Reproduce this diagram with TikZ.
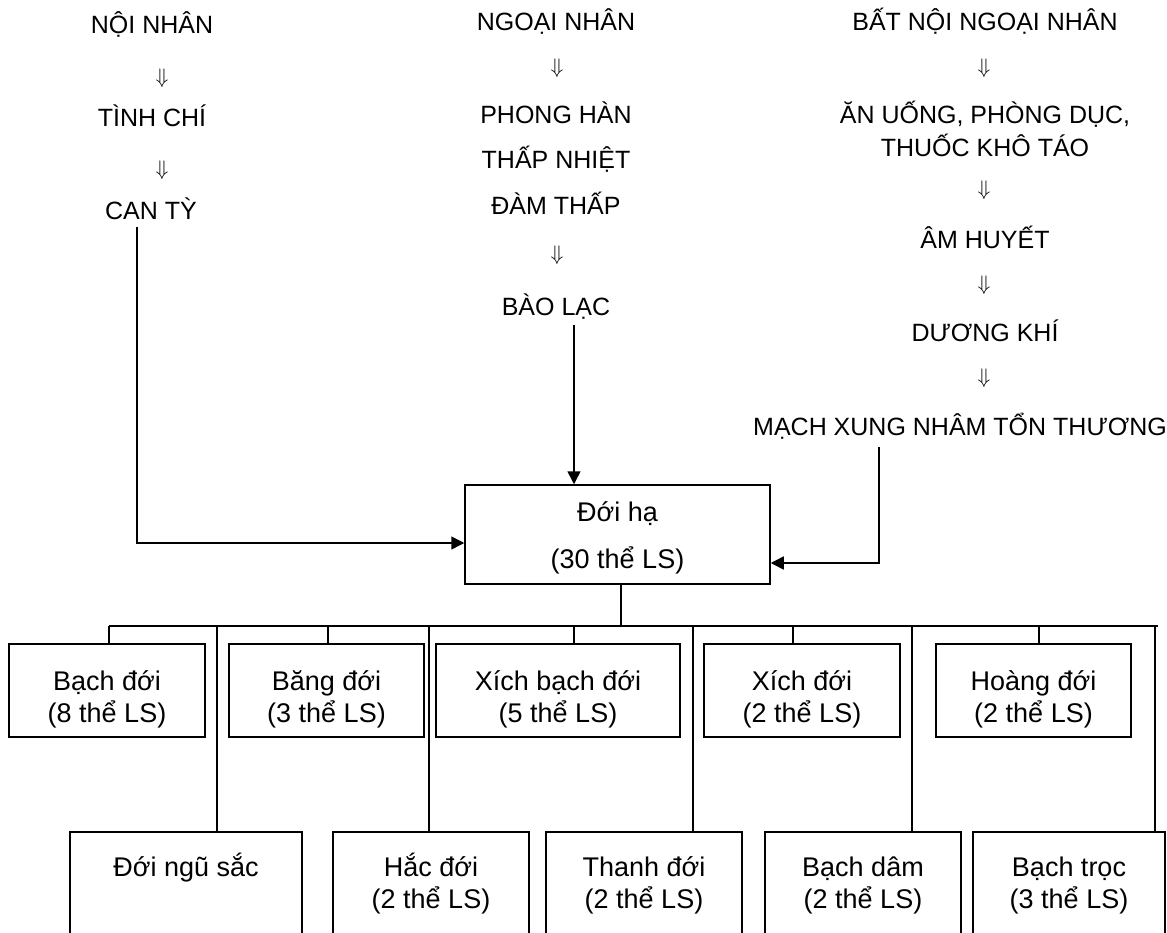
\documentclass[tikz,border=0pt]{standalone}
\usepackage{graphicx}
\usepackage{fontspec}
\setmainfont{Liberation Sans}
\usetikzlibrary{arrows.meta}
\newcommand\capfnt{\fontsize{25}{30}\selectfont}
\newcommand\boxfnt{\fontsize{27}{32}\selectfont}
\newcommand\mainfnt{\fontsize{27}{47}\selectfont}
\newcommand\dnarr{\scalebox{2.1}{$\Downarrow$}}
\begin{document}
\begin{tikzpicture}[x=1pt,y=-1pt,
  captxt/.style={anchor=base,font=\capfnt,inner sep=0pt},
  dn/.style={inner sep=0pt},
  ln/.style={line width=1.5pt},
  arr/.style={line width=1.5pt,-{Triangle[length=13pt,width=13pt]}},
  boxa/.style={draw,line width=1.5pt,inner sep=0pt,align=center,font=\boxfnt,
     minimum height=93pt,text height=73pt,text depth=10pt},
  boxb/.style={draw,line width=1.5pt,inner sep=0pt,align=center,font=\boxfnt,
     minimum height=108pt,text height=54pt,text depth=10pt},
  mainbox/.style={draw,line width=1.5pt,inner sep=0pt,align=center,font=\mainfnt,
     minimum width=305pt,minimum height=99pt,text height=77pt,text depth=10pt}]
\clip (0,0) rectangle (1167,933);
\fill[white] (0,0) rectangle (1167,933);
% left column
\node[captxt] (n1) at (152,34) {NỘI NHÂN};
\node[dn] (d1) at (162,78) {\dnarr};
\node[captxt] (n2) at (152,127) {TÌNH CHÍ};
\node[dn] (d2) at (162,170) {\dnarr};
\node[captxt] (n3) at (151,220) {CAN TỲ};
% middle column
\node[captxt] (m1) at (556,31) {NGOẠI NHÂN};
\node[dn] (d3) at (557,68) {\dnarr};
\node[captxt] (m2) at (556,124) {PHONG HÀN};
\node[captxt] (m3) at (556,169) {THẤP NHIỆT};
\node[captxt] (m4) at (556,215) {ĐÀM THẤP};
\node[dn] (d4) at (557,255) {\dnarr};
\node[captxt] (m5) at (556,316) {BÀO LẠC};
% right column
\node[captxt] (r1) at (985,31) {BẤT NỘI NGOẠI NHÂN};
\node[dn] (d5) at (984,68) {\dnarr};
\node[captxt] (r2) at (985,124) {ĂN UỐNG, PHÒNG DỤC,};
\node[captxt] (r3) at (985,157) {THUỐC KHÔ TÁO};
\node[dn] (d6) at (984,190) {\dnarr};
\node[captxt] (r4) at (985,249) {ÂM HUYẾT};
\node[dn] (d7) at (984,285) {\dnarr};
\node[captxt] (r5) at (985,341) {DƯƠNG KHÍ};
\node[dn] (d8) at (984,378) {\dnarr};
\node[captxt] (r6) at (960,435) {MẠCH XUNG NHÂM TỔN THƯƠNG};
% main box
\node[mainbox] (main) at (617.5,534.5) {Đới hạ\\(30 thể LS)};
% connector start points
\coordinate (c1) at (137,227);
\coordinate (c2) at (574,325);
\coordinate (c3) at (879,447);
\draw[arr] (c1) |- ([yshift=-8.5pt]main.west);
\draw[arr] (c2) -- (main.north -| c2);
\draw[arr] (c3) |- ([yshift=-28.5pt]main.east);
% top row boxes
\node[boxa,minimum width=196pt] (b1) at (107,690.5) {Bạch đới\\(8 thể LS)};
\node[boxa,minimum width=195pt] (b2) at (326.5,690.5) {Băng đới\\(3 thể LS)};
\node[boxa,minimum width=244pt] (b3) at (558,690.5) {Xích bạch đới\\(5 thể LS)};
\node[boxa,minimum width=196pt] (b4) at (802,690.5) {Xích đới\\(2 thể LS)};
\node[boxa,minimum width=195pt] (b5) at (1033.5,690.5) {Hoàng đới\\(2 thể LS)};
% bottom row boxes
\node[boxb,minimum width=232pt] (e1) at (186,886) {Đới ngũ sắc\\\strut};
\node[boxb,minimum width=196pt] (e2) at (431,886) {Hắc đới\\(2 thể LS)};
\node[boxb,minimum width=196pt] (e3) at (644,886) {Thanh đới\\(2 thể LS)};
\node[boxb,minimum width=196pt] (e4) at (863,886) {Bạch dâm\\(2 thể LS)};
\node[boxb,minimum width=192pt] (e5) at (1069,886) {Bạch trọc\\(3 thể LS)};
% bus
\coordinate (busL) at (109,626);
\coordinate (busR) at (1158,626);
\coordinate (busM) at (621,626);
\draw[ln] (busL) -- (busR);
\draw[ln] (main.south -| busM) -- (busM);
% top connectors
\coordinate (t1) at (109,626);
\coordinate (t2) at (328,626);
\coordinate (t3) at (574,626);
\coordinate (t4) at (793,626);
\coordinate (t5) at (1039,626);
\draw[ln] (t1) -- (b1.north -| t1);
\draw[ln] (t2) -- (b2.north -| t2);
\draw[ln] (t3) -- (b3.north -| t3);
\draw[ln] (t4) -- (b4.north -| t4);
\draw[ln] (t5) -- (b5.north -| t5);
% bottom connectors
\coordinate (u1) at (217,626);
\coordinate (u2) at (429,626);
\coordinate (u3) at (693,626);
\coordinate (u4) at (912,626);
\coordinate (u5) at (1155,626);
\draw[ln] (u1) -- (e1.north -| u1);
\draw[ln] (u2) -- (e2.north -| u2);
\draw[ln] (u3) -- (e3.north -| u3);
\draw[ln] (u4) -- (e4.north -| u4);
\draw[ln] (u5) -- (e5.north -| u5);
\end{tikzpicture}
\end{document}
